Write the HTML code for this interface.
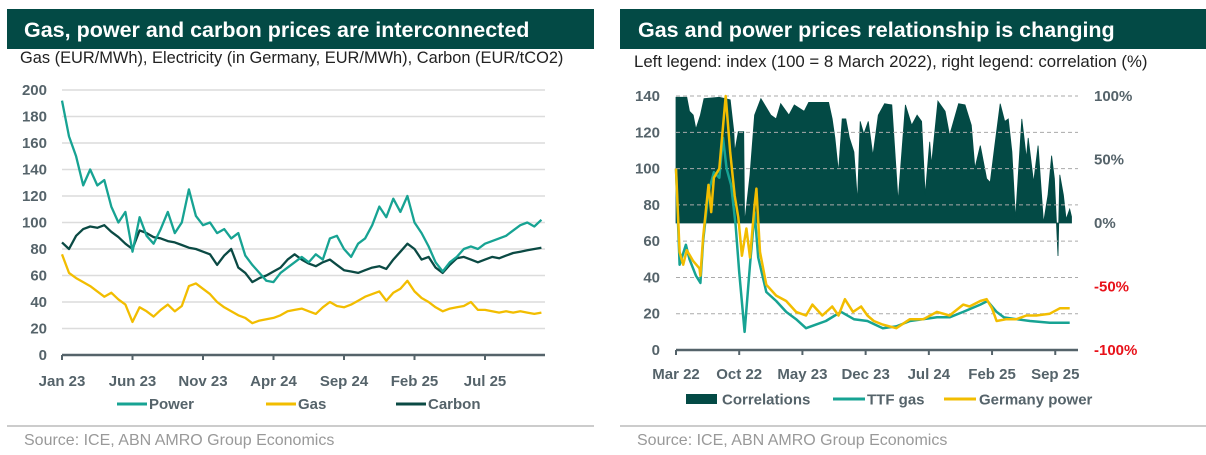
<!DOCTYPE html>
<html><head><meta charset="utf-8">
<style>
body{margin:0;width:1206px;height:455px;background:#fff;overflow:hidden;font-family:"Liberation Sans",sans-serif;}
svg{position:absolute;left:0;top:0;}
</style></head>
<body>
<svg id="c" width="1206" height="455" viewBox="0 0 1206 455">
<rect x="7" y="9" width="587" height="40" fill="#034a45"/>
<text x="24" y="37" font-size="21.5" font-weight="bold" fill="#fff">Gas, power and carbon prices are interconnected</text>
<text x="20" y="63" font-size="16.4" fill="#222">Gas (EUR/MWh), Electricity (in Germany, EUR/MWh), Carbon (EUR/tCO2)</text>
<line x1="7" y1="426" x2="594" y2="426" stroke="#ccc" stroke-width="2"/>
<text x="24" y="445" font-size="16" fill="#999">Source: ICE, ABN AMRO Group Economics</text>
<rect x="620" y="9" width="586" height="40" fill="#034a45"/>
<text x="638" y="37" font-size="21.5" font-weight="bold" fill="#fff">Gas and power prices relationship is changing</text>
<text x="634" y="67" font-size="16.8" fill="#222">Left legend: index (100 = 8 March 2022), right legend: correlation (%)</text>
<line x1="620" y1="426" x2="1206" y2="426" stroke="#ccc" stroke-width="2"/>
<text x="637" y="445" font-size="16" fill="#999">Source: ICE, ABN AMRO Group Economics</text>
<g id="L"></g><g id="R"></g>
</svg>
<script>
// ---------- Left chart data (month offset from Jan 2023) ----------
const leftYTicks = [0,20,40,60,80,100,120,140,160,180,200];
const leftXLabels = ["Jan 23","Jun 23","Nov 23","Apr 24","Sep 24","Feb 25","Jul 25"];
const leftXTickMonths = [0,5,10,15,20,25,30];
const powerValues = [192,165,150,128,140,128,132,112,100,108,78,104,90,84,95,108,92,100,125,105,98,100,92,95,88,92,75,68,62,56,55,62,66,70,74,70,76,72,88,90,80,74,84,88,98,112,104,118,108,120,100,92,82,70,63,70,74,80,82,80,84,86,88,90,94,98,100,97,102];
const carbonValues = [85,80,90,95,97,96,98,93,89,84,80,94,92,89,88,86,85,83,81,80,78,76,68,75,80,66,62,55,58,60,63,66,72,76,72,69,67,70,72,68,64,63,62,64,66,67,65,72,78,84,80,72,74,66,62,68,73,74,72,70,72,74,73,75,77,78,79,80,81];
const gasValues = [76,62,58,55,52,48,44,47,42,38,25,36,33,29,34,38,33,37,52,54,50,46,40,36,33,30,28,24,26,27,28,30,33,34,35,33,31,36,40,37,36,38,41,44,46,48,41,47,50,56,48,43,40,36,33,35,36,37,40,34,34,33,32,33,32,33,32,31,32];

// ---------- Right chart data (month offset from Mar 2022) ----------
const rightYTicks = [0,20,40,60,80,100,120,140];
const rightPctTicks = [100,50,0,-50,-100];
const rightXLabels = ["Mar 22","Oct 22","May 23","Dec 23","Jul 24","Feb 25","Sep 25"];
const rightXTickMonths = [0,7,14,21,28,35,42];
const corrMonths = [0,1.2,1.5,1.9,2.2,2.7,3.1,4.8,6.0,6.4,6.5,6.9,7.5,7.6,8.2,8.7,9.4,10.5,11.1,11.6,12.5,13.1,14.2,14.7,16.0,16.9,17.3,17.6,18.0,18.4,18.8,19.2,19.7,20.1,20.4,20.8,21.3,21.8,22.4,23.1,23.9,24.2,24.6,25.4,26.1,26.7,27.2,27.6,28.1,28.3,29.0,29.8,30.3,31.3,32.0,32.7,33.1,33.7,34.4,34.8,35.3,35.9,36.4,36.8,37.2,37.6,38.3,38.8,39.0,39.6,40.1,40.7,41.2,41.6,41.9,42.3,42.5,42.9,43.2,43.6,43.8];
const corrValues = [99,99,88,85,74,85,98,99,97,72,56,72,72,0,38,85,98,85,82,94,85,93,88,95,95,95,82,67,40,82,82,67,56,17,80,70,80,53,85,94,93,61,17,93,77,85,80,22,64,46,96,88,69,94,93,77,43,61,35,32,61,94,80,82,56,3,82,51,67,32,61,0,22,53,35,-26,38,22,3,11,5];
const ttfMonths = [0,0.4,1.1,1.5,2.2,2.7,3.0,3.6,4.2,4.8,5.2,5.6,6.1,6.6,7.0,7.6,8.2,8.7,9.1,10.0,11.1,12.2,13.3,14.4,15.5,16.6,17.6,18.3,19.7,21.2,22.9,24.4,25.9,28.9,30.3,31.8,33.7,34.5,35.5,36.3,37.7,39.2,41.4,43.6];
const ttfValues = [100,47,58,50,41,37,60,87,98,95,117,100,91,69,43,10,47,76,51,32,27,21,17,12,14,16,19,21,17,16,12,13,16,18,18,21,25,27,21,18,17,16,15,15];
const powMonths = [0,0.4,0.8,1.2,1.9,2.6,2.7,3.0,3.6,3.9,4.2,4.8,5.5,6.0,6.5,6.9,7.3,7.8,8.2,8.7,8.9,9.3,10.0,11.1,12.2,13.3,14.4,15.1,16.2,17.3,18.0,18.7,19.6,20.5,21.2,21.9,22.9,24.4,25.9,27.4,28.9,30.3,31.8,32.5,33.7,34.4,35.0,35.5,36.6,37.7,38.8,39.9,41.4,42.5,43.6];
const powValues = [100,54,47,55,49,45,41,62,91,76,95,100,140,109,85,73,52,67,51,80,89,54,36,30,27,21,19,25,19,24,19,28,21,24,19,16,14,12,17,17,21,19,25,24,27,28,23,16,17,17,19,19,20,23,23];

const NS = "http://www.w3.org/2000/svg";
function mk(parent, tag, attrs){
  const e = document.createElementNS(NS, tag);
  for (const k in attrs) e.setAttribute(k, attrs[k]);
  parent.appendChild(e);
  return e;
}
const AXC = "#55636a";

(function(){
  const g = document.getElementById('L');
  const x0 = 62, pxPerMonth = 14.1, y0 = 355, pxPerUnit = 1.325, xEnd = 545;
  const xs = m => x0 + m*pxPerMonth;
  const ys = v => y0 - v*pxPerUnit;
  leftYTicks.forEach(v => {
    if (v > 0) {
      const gl = mk(g,'line',{x1:x0,x2:xEnd,y1:ys(v),y2:ys(v),stroke:'#dcdcdc','stroke-width':1.5});
      
      
    }
    const t = mk(g,'text',{x:47,y:ys(v)+5,'text-anchor':'end','font-size':15,'font-weight':'bold',fill:AXC});
    t.textContent = v;
    
    
  });
  const ax = mk(g,'line',{x1:x0,x2:xEnd,y1:y0,y2:y0,stroke:AXC,'stroke-width':2.5});
  
  
  leftXTickMonths.forEach((m,i) => {
    const tk = mk(g,'line',{x1:xs(m),x2:xs(m),y1:y0,y2:y0+5,stroke:AXC,'stroke-width':2});
    
    
    const t = mk(g,'text',{x:xs(m),y:y0+31,'text-anchor':'middle','font-size':15,'font-weight':'bold',fill:AXC});
    t.textContent = leftXLabels[i];
    
    
  });
  function series(vals, color, name){
    const d = vals.map((v,i)=> (i?'L':'M') + xs(i*0.5).toFixed(1) + ',' + ys(v).toFixed(1)).join('');
    const p = mk(g,'path',{d:d,fill:'none',stroke:color,'stroke-width':2.3,'stroke-linejoin':'round'});
    
    
  }
  series(gasValues,'#f2bd00','gas-line');
  series(carbonValues,'#0b4a44','carbon-line');
  series(powerValues,'#17a393','power-line');
  const leg = [['Power','#17a393',117],['Gas','#f2bd00',266],['Carbon','#0b4a44',396]];
  leg.forEach(l => {
    const ln = mk(g,'line',{x1:l[2],x2:l[2]+30,y1:404,y2:404,stroke:l[1],'stroke-width':3});
    
    
    const t = mk(g,'text',{x:l[2]+32,y:409,'font-size':15,'font-weight':'bold',fill:AXC});
    t.textContent = l[0];
    
    
  });
})();

(function(){
  const g = document.getElementById('R');
  const x0 = 676, pxPerMonth = 9.03, y0 = 350, pxPerUnit = 1.814, xEnd = 1078;
  const xs = m => x0 + m*pxPerMonth;
  const ys = v => y0 - v*pxPerUnit;
  const cBase = ys(70), pxPerPct = (ys(70)-ys(140))/100;
  const yc = p => cBase - p*pxPerPct;
  let d = 'M' + xs(corrMonths[0]) + ',' + cBase;
  corrMonths.forEach((m,i)=>{ d += 'L' + xs(m).toFixed(1) + ',' + yc(corrValues[i]).toFixed(1); });
  d += 'L' + xs(corrMonths[corrMonths.length-1]).toFixed(1) + ',' + cBase + 'Z';
  const area = mk(g,'path',{d:d,fill:'#034a45',stroke:'#034a45','stroke-width':0.8});
  
  
  rightYTicks.forEach(v => {
    if (v > 0) {
      const gl = mk(g,'line',{x1:x0,x2:xEnd,y1:ys(v),y2:ys(v),stroke:'#aaa','stroke-width':1,'stroke-dasharray':'4 3'});
      
      
    }
    const t = mk(g,'text',{x:660,y:ys(v)+5,'text-anchor':'end','font-size':15,'font-weight':'bold',fill:AXC});
    t.textContent = v;
    
    
  });
  rightPctTicks.forEach(p => {
    const t = mk(g,'text',{x:1094,y:yc(p)+5,'font-size':15,'font-weight':'bold',fill: p<0 ? '#e8121a' : AXC});
    t.textContent = p + '%';
    
    
  });
  function series(ms, vals, color, name){
    const dd = ms.map((m,i)=> (i?'L':'M') + xs(m).toFixed(1) + ',' + ys(vals[i]).toFixed(1)).join('');
    const p = mk(g,'path',{d:dd,fill:'none',stroke:color,'stroke-width':2.5,'stroke-linejoin':'round'});
    
    
  }
  series(ttfMonths, ttfValues, '#17a393', 'ttf-gas-line');
  series(powMonths, powValues, '#f2bd00', 'germany-power-line');
  const ax = mk(g,'line',{x1:x0,x2:xEnd,y1:y0,y2:y0,stroke:AXC,'stroke-width':2.5});
  
  
  rightXTickMonths.forEach((m,i) => {
    const tk = mk(g,'line',{x1:xs(m),x2:xs(m),y1:y0,y2:y0+5,stroke:AXC,'stroke-width':2});
    
    
    const t = mk(g,'text',{x:xs(m),y:y0+29,'text-anchor':'middle','font-size':15,'font-weight':'bold',fill:AXC});
    t.textContent = rightXLabels[i];
    
    
  });
  const r = mk(g,'rect',{x:686,y:394,width:31,height:10,fill:'#034a45'});
  
  
  const leg = [['Correlations',null,686,722],['TTF gas','#17a393',833,867],['Germany power','#f2bd00',944,979]];
  leg.forEach(l => {
    if (l[1]) {
      const ln = mk(g,'line',{x1:l[2],x2:l[2]+32,y1:399,y2:399,stroke:l[1],'stroke-width':3});
      
      
    }
    const t = mk(g,'text',{x:l[3],y:404.5,'font-size':15,'font-weight':'bold',fill:AXC});
    t.textContent = l[0];
    
    
  });
})();
</script>
</body></html>
